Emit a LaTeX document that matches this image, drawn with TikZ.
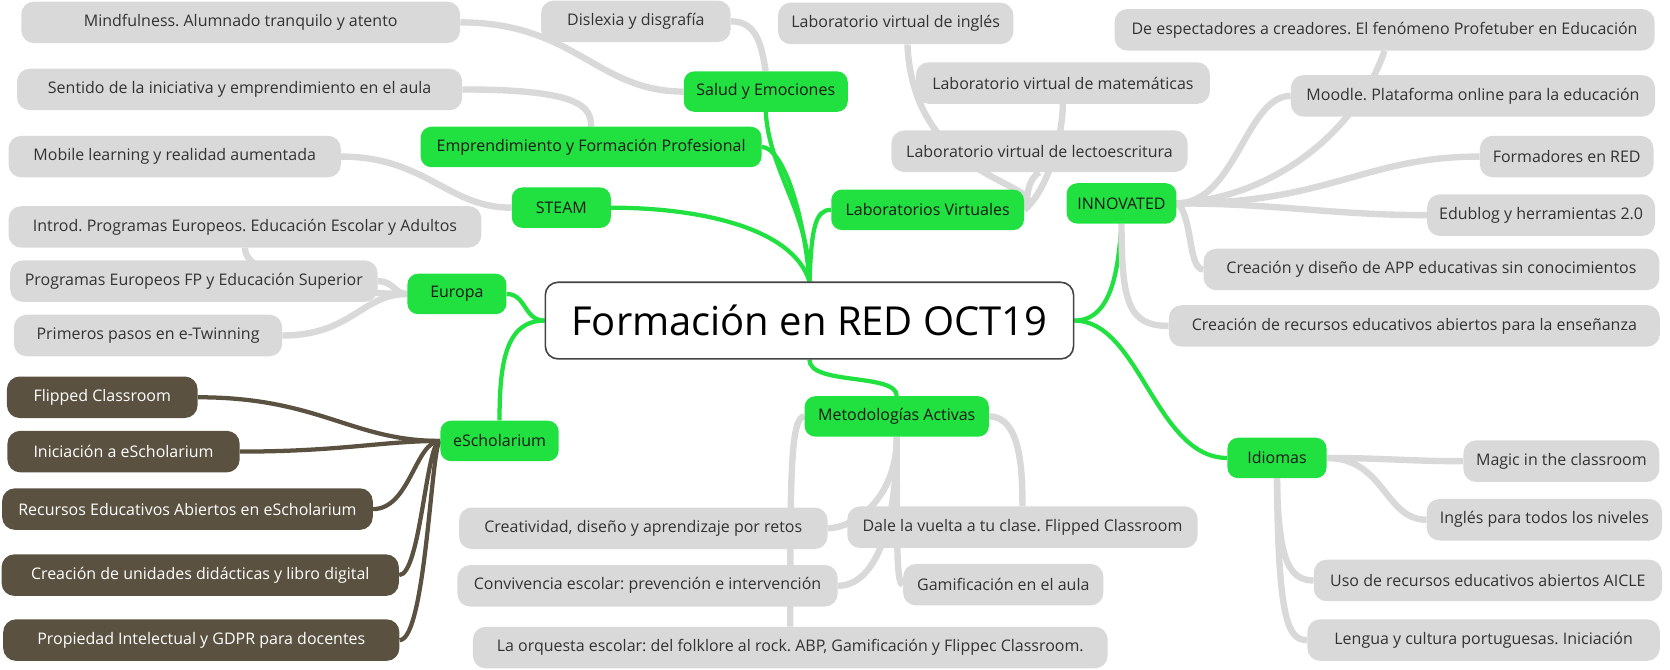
\documentclass[tikz,border=0pt]{standalone}
\usepackage{fontspec}
\setmainfont{Open Sans}
\usepackage{xcolor}
\definecolor{topicgreen}{RGB}{33,225,65}
\definecolor{leafgray}{RGB}{217,217,217}
\definecolor{leafbrown}{RGB}{90,81,64}
\definecolor{textgray}{RGB}{51,51,51}
\definecolor{rootgray}{RGB}{68,68,68}
\pgfdeclarelayer{bg}
\pgfsetlayers{bg,main}
\frenchspacing

\begin{document}
\begin{tikzpicture}[x=1pt,y=-1pt,
  root/.style={draw=rootgray, line width=1.5pt, fill=white, rounded corners=12pt, minimum width=496pt, minimum height=72pt, font=\fontsize{37.5}{44}\selectfont},
  topic/.style={fill=topicgreen, rounded corners=10pt, minimum height=38pt, inner sep=2pt, text=black!90, font=\fontsize{15}{17}\selectfont},
  leaf/.style={fill=leafgray, rounded corners=12pt, minimum height=39pt, inner sep=2pt, text=textgray, font=\fontsize{15}{17}\selectfont},
  brownleaf/.style={leaf, fill=leafbrown, text=white},
  greenline/.style={topicgreen, line width=4pt},
  grayline/.style={leafgray, line width=6pt},
  brownline/.style={leafbrown, line width=4pt}]
\useasboundingbox (0,0) rectangle (1568,629);

\node[root] (R) at (760,301) {Formación en RED OCT19};

\node[topic, minimum width=154pt] (SE) at (719,86) {Salud y Emociones};
\node[topic, minimum width=320pt] (EF) at (555,138) {Emprendimiento y Formación Profesional};
\node[topic, minimum width=93pt] (ST) at (527,195) {STEAM};
\node[topic, minimum width=181pt] (LV) at (871,197) {Laboratorios Virtuales};
\node[topic, minimum width=103pt] (IN) at (1053,191) {INNOVATED};
\node[topic, minimum width=93pt] (EU) at (429,276) {Europa};
\node[topic, minimum width=111pt] (ES) at (469,414) {eScholarium};
\node[topic, minimum width=173pt] (MA) at (842,391) {Metodologías Activas};
\node[topic, minimum width=93pt] (ID) at (1199,430) {Idiomas};

\node[leaf, minimum width=412pt] (mind) at (226,21) {Mindfulness. Alumnado tranquilo y atento};
\node[leaf, minimum width=178pt] (disl) at (597,20) {Dislexia y disgrafía};
\node[leaf, minimum width=418pt] (sent) at (225,84) {Sentido de la iniciativa y emprendimiento en el aula};
\node[leaf, minimum width=312pt] (mobi) at (164,147) {Mobile learning y realidad aumentada};
\node[leaf, minimum width=444pt] (intr) at (230,213) {Introd. Programas Europeos. Educación Escolar y Adultos};
\node[leaf, minimum width=345pt] (prog) at (182,264) {Programas Europeos FP y Educación Superior};
\node[leaf, minimum width=252pt] (prim) at (139,315) {Primeros pasos en e-Twinning};

\node[brownleaf, minimum width=179pt] (flip) at (96,373) {Flipped Classroom};
\node[brownleaf, minimum width=218pt] (inic) at (116,424) {Iniciación a eScholarium};
\node[brownleaf, minimum width=348pt] (recu) at (176,478) {Recursos Educativos Abiertos en eScholarium};
\node[brownleaf, minimum width=373pt] (unid) at (188,540) {Creación de unidades didácticas y libro digital};
\node[brownleaf, minimum width=372pt] (prop) at (189,601) {Propiedad Intelectual y GDPR para docentes};

\node[leaf, minimum width=221pt] (lING) at (841,22) {Laboratorio virtual de inglés};
\node[leaf, minimum width=276pt] (lMAT) at (998,78) {Laboratorio virtual de matemáticas};
\node[leaf, minimum width=278pt] (lLEC) at (976,142) {Laboratorio virtual de lectoescritura};

\node[leaf, minimum width=507pt] (espe) at (1300,28) {De espectadores a creadores. El fenómeno Profetuber en Educación};
\node[leaf, minimum width=342pt] (mood) at (1383,90) {Moodle. Plataforma online para la educación};
\node[leaf, minimum width=163pt] (form) at (1471,147) {Formadores en RED};
\node[leaf, minimum width=214pt] (edub) at (1447,202) {Edublog y herramientas 2.0};
\node[leaf, minimum width=428pt] (appe) at (1344,253) {Creación y diseño de APP educativas sin conocimientos};
\node[leaf, minimum width=461pt] (crea) at (1328,306) {Creación de recursos educativos abiertos para la enseñanza};

\node[leaf, minimum width=184pt] (magi) at (1466,433) {Magic in the classroom};
\node[leaf, minimum width=221pt] (ingl) at (1450,488) {Inglés para todos los niveles};
\node[leaf, minimum width=327pt] (uso) at (1397,545) {Uso de recursos educativos abiertos AICLE};
\node[leaf, minimum width=331pt] (leng) at (1393,601) {Lengua y cultura portuguesas. Iniciación};

\node[leaf, minimum width=346pt] (retos) at (604,496) {Creatividad, diseño y aprendizaje por retos};
\node[leaf, minimum width=329pt] (dale) at (960,495) {Dale la vuelta a tu clase. Flipped Classroom};
\node[leaf, minimum width=357pt] (conv) at (608,550) {Convivencia escolar: prevención e intervención};
\node[leaf, minimum width=188pt] (gami) at (942,549) {Gamificación en el aula};
\node[leaf, minimum width=596pt] (orqu) at (742,608) {La orquesta escolar: del folklore al rock. ABP, Gamificación y Flippec Classroom.};

\begin{pgfonlayer}{bg}
\draw[greenline] (R.north) .. controls (760,200) and (722,160) .. (SE.south);
\draw[greenline] (R.north) .. controls (755,200) and (735,138) .. (EF.east);
\draw[greenline] (R.north) .. controls (745,215) and (660,195) .. (ST.east);
\draw[greenline] (R.north) .. controls (762,215) and (765,197) .. (LV.west);
\draw[greenline] (R.west) .. controls (492,301) and (494,276) .. (EU.east);
\draw[greenline] (R.west) .. controls (475,301) and (469,340) .. (ES.north);
\draw[greenline] (R.east) .. controls (1045,301) and (1050,250) .. (IN.south);
\draw[greenline] (R.east) .. controls (1070,301) and (1085,430) .. (ID.west);
\draw[greenline] (R.south) .. controls (760,362) and (842,350) .. (MA.north);

\draw[grayline] (mind.east) .. controls (540,21) and (560,86) .. (SE.west);
\draw[grayline] (disl.east) .. controls (712,20) and (715,45) .. (SE.north);
\draw[grayline] (sent.east) .. controls (545,84) and (555,100) .. (EF.north);
\draw[grayline] (mobi.east) .. controls (400,147) and (420,195) .. (ST.west);
\draw[grayline] (intr.south) .. controls (230,262) and (320,276) .. (EU.west);
\draw[grayline] (prog.east) .. controls (370,264) and (370,276) .. (EU.west);
\draw[grayline] (prim.east) .. controls (330,315) and (340,276) .. (EU.west);

\draw[brownline] (flip.east) .. controls (300,373) and (330,414) .. (ES.west);
\draw[brownline] (inic.east) .. controls (320,424) and (360,414) .. (ES.west);
\draw[brownline] (recu.east) .. controls (385,478) and (390,414) .. (ES.west);
\draw[brownline] (unid.east) .. controls (395,540) and (400,414) .. (ES.west);
\draw[brownline] (prop.east) .. controls (400,601) and (405,414) .. (ES.west);

\draw[grayline] (LV.east) .. controls (990,170) and (858,175) .. ([xshift=11pt]lING.south);
\draw[grayline] (LV.east) .. controls (978,185) and (997,140) .. (lMAT.south);
\draw[grayline] (LV.east) .. controls (966,185) and (963,170) .. (lLEC.south);

\draw[grayline] (IN.east) .. controls (1160,191) and (1170,90) .. (mood.west);
\draw[grayline] (IN.east) .. controls (1200,185) and (1275,120) .. (espe.south);
\draw[grayline] (IN.east) .. controls (1250,191) and (1280,147) .. (form.west);
\draw[grayline] (IN.east) .. controls (1200,191) and (1250,202) .. (edub.west);
\draw[grayline] (IN.east) .. controls (1120,200) and (1115,253) .. (appe.west);
\draw[grayline] (IN.south) .. controls (1053,285) and (1060,306) .. (crea.west);

\draw[grayline] (ID.east) .. controls (1300,430) and (1320,433) .. (magi.west);
\draw[grayline] (ID.east) .. controls (1300,430) and (1300,488) .. (ingl.west);
\draw[grayline] (ID.south) .. controls (1200,525) and (1210,545) .. (uso.west);
\draw[grayline] (ID.south) .. controls (1200,585) and (1210,601) .. (leng.west);

\draw[grayline] (MA.west) .. controls (742,391) and (742,450) .. (orqu.north -| 742,0);
\draw[grayline] (MA.south) .. controls (842,470) and (800,496) .. (retos.east);
\draw[grayline] (MA.south) .. controls (842,500) and (820,550) .. (conv.east);
\draw[grayline] (MA.south) .. controls (842,520) and (842,549) .. (gami.west);
\draw[grayline] (MA.east) .. controls (958,391) and (960,440) .. (dale.north);
\end{pgfonlayer}
\end{tikzpicture}
\end{document}
